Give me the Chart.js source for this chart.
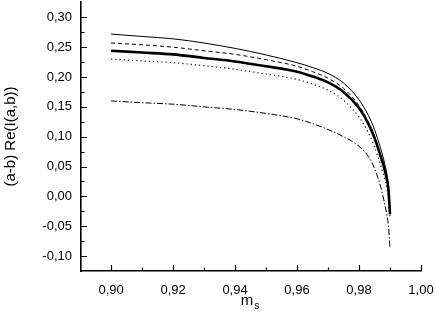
<!DOCTYPE html>
<html>
<head>
<meta charset="utf-8">
<script src="https://cdn.jsdelivr.net/npm/chart.js@4/dist/chart.umd.min.js"></script>
<style>
  html, body { margin: 0; padding: 0; background: #fff; }
  #wrap { width: 436px; height: 326px; position: relative; }
</style>
</head>
<body>
<div id="wrap"><canvas id="chart"></canvas></div>
<script>
// m_s values where the curves were read
const msValues = [0.90, 0.91, 0.92, 0.93, 0.94, 0.95, 0.96, 0.965, 0.97, 0.975, 0.98, 0.983, 0.985, 0.987, 0.988, 0.989, 0.9895, 0.99];

// (a-b) Re(I(a,b)) for each curve
const thinSolid = [0.272, 0.268, 0.264, 0.257, 0.248, 0.237, 0.224, 0.216, 0.206, 0.190, 0.162, 0.136, 0.112, 0.080, 0.061, 0.037, 0.019, -0.025];
const dashed    = [0.257, 0.254, 0.250, 0.244, 0.238, 0.229, 0.218, 0.209, 0.198, 0.181, 0.152, 0.125, 0.101, 0.069, 0.052, 0.029, 0.012, -0.028];
const thick     = [0.244, 0.241, 0.238, 0.232, 0.226, 0.218, 0.209, 0.201, 0.191, 0.175, 0.148, 0.122, 0.098, 0.067, 0.050, 0.028, 0.011, -0.030];
const dotted    = [0.230, 0.227, 0.224, 0.219, 0.213, 0.205, 0.196, 0.188, 0.178, 0.161, 0.133, 0.107, 0.083, 0.052, 0.035, 0.012, -0.004, -0.035];
const dashDot   = [0.160, 0.157, 0.1545, 0.150, 0.1456, 0.139, 0.130, 0.122, 0.112, 0.100, 0.084, 0.067, 0.047, 0.016, -0.006, -0.032, -0.050, -0.087];

// axis ticks
const xTicks = [0.90, 0.92, 0.94, 0.96, 0.98, 1.00];
const xMinorTicks = [0.91, 0.93, 0.95, 0.97, 0.99];
const yTicks = [-0.10, -0.05, 0.00, 0.05, 0.10, 0.15, 0.20, 0.25, 0.30];
const yMinorTicks = [-0.075, -0.025, 0.025, 0.075, 0.125, 0.175, 0.225, 0.275];

const FONT = '"Liberation Sans", Arial, sans-serif';
const commaLabel = (v) => Number(v).toFixed(2).replace('.', ',');

function series(values, width, dash) {
    return {
        data: msValues.map((x, i) => ({ x: x, y: values[i] })),
        borderColor: '#000',
        borderWidth: width,
        borderDash: dash,
        pointRadius: 0,
        fill: false,
        cubicInterpolationMode: 'monotone'
    };
}

// inward ticks and axis titles
const axisDecor = {
    id: 'axisDecor',
    afterDraw(chart) {
        const ctx = chart.ctx;
        const xs = chart.scales.x;
        const ys = chart.scales.y;
        const area = chart.chartArea;
        ctx.save();
        ctx.strokeStyle = '#000';
        ctx.lineWidth = 1.2;
        ctx.beginPath();
        xTicks.concat(xMinorTicks).forEach((v) => {
            const len = xTicks.includes(v) ? 6 : 3.5;
            const px = Math.round(xs.getPixelForValue(v)) + 0.5;
            ctx.moveTo(px, area.bottom);
            ctx.lineTo(px, area.bottom - len);
        });
        yTicks.concat(yMinorTicks).forEach((v) => {
            const len = yTicks.includes(v) ? 6 : 3.5;
            const py = Math.round(ys.getPixelForValue(v)) + 0.5;
            ctx.moveTo(area.left, py);
            ctx.lineTo(area.left + len, py);
        });
        ctx.stroke();

        ctx.fillStyle = '#000';
        // y title
        ctx.save();
        ctx.translate(11, (area.top + area.bottom) / 2);
        ctx.rotate(-Math.PI / 2);
        ctx.font = '15px ' + FONT;
        ctx.textAlign = 'center';
        ctx.textBaseline = 'middle';
        ctx.fillText('(a-b) Re(I(a,b))', 0, 0);
        ctx.restore();

        // x title m_s
        ctx.font = '15px ' + FONT;
        ctx.textBaseline = 'alphabetic';
        ctx.textAlign = 'left';
        const mW = ctx.measureText('m').width;
        ctx.font = '10px ' + FONT;
        const sW = ctx.measureText('s').width;
        const startX = (area.left + area.right) / 2 - (mW + sW + 1) / 2 - 1;
        ctx.font = '15px ' + FONT;
        ctx.fillText('m', startX, 305);
        ctx.font = '10px ' + FONT;
        ctx.fillText('s', startX + mW + 1, 309);
        ctx.restore();
    }
};

new Chart(document.getElementById('chart'), {
    type: 'line',
    data: {
        datasets: [
            series(thinSolid, 1, []),
            series(dashed, 1, [4, 3]),
            series(thick, 2.6, []),
            series(dotted, 1.1, [1.2, 3]),
            series(dashDot, 1, [6, 2, 1.5, 2])
        ]
    },
    options: {
        responsive: true,
        maintainAspectRatio: false,
        animation: false,
        layout: { padding: { top: 2, right: 15, left: 0, bottom: 0 } },
        plugins: {
            legend: { display: false },
            tooltip: { enabled: false }
        },
        scales: {
            x: {
                type: 'linear',
                min: 0.8903,
                max: 1.0,
                afterFit: (s) => { s.height = 55; s.paddingLeft = 0; s.paddingRight = 0; },
                afterBuildTicks: (s) => { s.ticks = xTicks.map((v) => ({ value: v })); },
                ticks: {
                    color: '#000',
                    font: { family: FONT, size: 13 },
                    padding: 12,
                    maxRotation: 0,
                    autoSkip: false,
                    callback: (v) => commaLabel(v)
                },
                grid: { display: false, drawTicks: false },
                border: { display: true, color: '#000', width: 1.6 }
            },
            y: {
                min: -0.125,
                max: 0.3257,
                afterFit: (s) => { s.width = 81; s.paddingTop = 0; s.paddingBottom = 0; },
                afterBuildTicks: (s) => { s.ticks = yTicks.map((v) => ({ value: v })); },
                ticks: {
                    color: '#000',
                    font: { family: FONT, size: 13 },
                    padding: 9,
                    autoSkip: false,
                    callback: (v) => commaLabel(v)
                },
                grid: { display: false, drawTicks: false },
                border: { display: true, color: '#000', width: 1.6 }
            }
        }
    },
    plugins: [axisDecor]
});
</script>
</body>
</html>
